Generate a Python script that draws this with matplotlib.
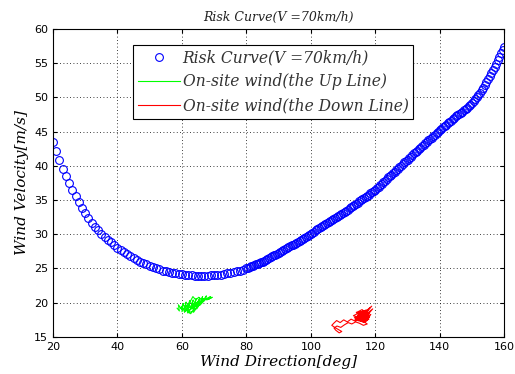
import matplotlib.pyplot as plt

# Data: risk curve read at whole degrees
direction = list(range(20, 161))
risk_speed = [
    43.4, 42.1, 40.8, 39.5, 38.5, 37.5, 36.5, 35.6, 34.7, 33.9,
    33.1, 32.4, 31.7, 31.1, 30.6, 30.1, 29.6, 29.2, 28.8, 28.4,
    28.0, 27.7, 27.4, 27.1, 26.8, 26.5, 26.3, 26.0, 25.8, 25.6,
    25.4, 25.2, 25.0, 24.9, 24.7, 24.6, 24.5, 24.4, 24.3, 24.2,
    24.2, 24.1, 24.0, 24.0, 23.9, 23.9, 23.9, 23.9, 23.9, 24.0,
    24.0, 24.1, 24.1, 24.2, 24.3, 24.4, 24.5, 24.6, 24.7, 24.8,
    25.0, 25.2, 25.4, 25.6, 25.8, 26.0, 26.3, 26.5, 26.8, 27.0,
    27.2, 27.5, 27.8, 28.1, 28.4, 28.6, 28.9, 29.2, 29.5, 29.8,
    30.1, 30.4, 30.7, 31.0, 31.3, 31.6, 31.9, 32.2, 32.5, 32.8,
    33.1, 33.4, 33.8, 34.1, 34.4, 34.8, 35.1, 35.5, 35.8, 36.2,
    36.5, 36.9, 37.4, 37.8, 38.3, 38.7, 39.1, 39.6, 40.0, 40.5,
    40.9, 41.3, 41.8, 42.2, 42.6, 43.1, 43.5, 43.9, 44.3, 44.8,
    45.2, 45.6, 46.0, 46.4, 46.8, 47.2, 47.6, 47.9, 48.3, 48.7,
    49.1, 49.7, 50.3, 51.0, 51.8, 52.6, 53.5, 54.4, 55.4, 56.4,
    57.3,
]

# risk curve read at half degrees on the dense right-hand part
direction_half = [d + 0.5 for d in range(80, 160)]
risk_speed_half = [
    25.1, 25.3, 25.5, 25.7, 25.9, 26.15, 26.4, 26.65, 26.9, 27.1,
    27.35, 27.65, 27.95, 28.25, 28.5, 28.75, 29.05, 29.35, 29.65, 29.95,
    30.25, 30.55, 30.85, 31.15, 31.45, 31.75, 32.05, 32.35, 32.65, 32.95,
    33.25, 33.6, 33.95, 34.25, 34.6, 34.95, 35.3, 35.65, 36.0, 36.35,
    36.7, 37.15, 37.6, 38.05, 38.5, 38.9, 39.35, 39.8, 40.25, 40.7,
    41.1, 41.55, 42.0, 42.4, 42.85, 43.3, 43.7, 44.1, 44.55, 45.0,
    45.4, 45.8, 46.2, 46.6, 47.0, 47.4, 47.75, 48.1, 48.5, 48.9,
    49.4, 50.0, 50.65, 51.4, 52.2, 53.05, 53.95, 54.9, 55.9, 56.85,
]

up_dir = [58.5, 59.2, 58.9, 59.8, 60.4, 60.0, 60.9, 61.3, 60.8, 61.9,
          62.4, 61.8, 62.9, 63.5, 62.7, 63.8, 64.4, 63.6, 64.9, 65.5,
          64.6, 65.8, 66.4, 65.5, 66.9, 67.6, 66.6, 68.0, 68.9, 67.7,
          69.4, 68.3, 67.2, 66.3, 65.2, 64.3, 63.4, 62.6, 63.3, 64.1,
          63.2, 64.5, 65.3, 64.0, 65.9, 66.8, 65.6, 64.7, 63.7, 62.8,
          61.9, 61.1, 60.4, 59.6, 60.3, 61.4, 62.3, 61.6, 62.7, 63.6,
          62.9, 64.2, 65.1, 64.4, 63.5, 62.4, 61.5, 60.7, 61.8, 62.6]
up_speed = [19.2, 18.8, 19.7, 19.1, 19.9, 18.7, 19.4, 20.1, 18.6, 19.5,
            20.3, 18.5, 19.2, 20.4, 19.0, 19.8, 20.6, 18.6, 19.5, 20.7,
            19.1, 20.0, 20.9, 19.6, 20.3, 21.0, 20.2, 20.7, 20.9, 20.4,
            20.8, 20.5, 20.7, 20.3, 20.8, 20.4, 20.9, 20.2, 19.5, 20.1,
            19.3, 19.8, 20.4, 19.4, 19.9, 20.6, 20.1, 19.6, 19.9, 19.4,
            19.8, 19.3, 19.7, 19.2, 18.9, 19.5, 19.0, 18.7, 18.4, 18.9,
            19.6, 19.1, 19.7, 20.0, 18.8, 18.6, 19.0, 18.7, 19.2, 19.4]

down_dir = [116.0, 114.8, 117.2, 115.5, 118.4, 116.3, 113.9, 117.0, 115.2, 118.9,
            116.6, 114.2, 117.5, 115.0, 113.5, 116.8, 114.6, 117.9, 115.8, 113.2,
            116.1, 118.2, 115.4, 117.3, 114.1, 116.5, 119.2, 117.1, 115.7, 114.4,
            116.9, 118.0, 115.1, 113.7, 116.2, 117.7, 114.9, 116.4, 118.6, 117.4,
            115.6, 113.8, 112.5, 111.3, 110.2, 109.1, 108.0, 107.1, 106.5, 107.4,
            108.5, 109.6, 108.8, 107.7, 107.2, 108.1, 109.3, 110.5, 111.6, 112.7,
            113.9, 115.1, 116.3, 117.5, 116.2, 117.9, 116.7, 115.3, 114.0, 115.6,
            117.0, 118.1, 116.8, 115.5, 114.3, 115.9, 117.3, 116.0, 114.7, 116.4]
down_speed = [18.1, 17.5, 18.6, 17.8, 19.3, 18.4, 17.6, 18.9, 18.0, 19.5,
              18.3, 17.4, 18.7, 18.2, 17.8, 17.3, 18.5, 19.0, 17.7, 18.1,
              18.8, 17.9, 17.4, 18.4, 18.6, 17.6, 19.1, 18.3, 17.7, 18.0,
              18.9, 17.6, 18.4, 17.5, 17.2, 18.0, 18.7, 17.8, 18.3, 17.4,
              17.8, 17.3, 17.6, 17.2, 17.5, 17.1, 17.4, 17.0, 16.7, 16.4,
              16.1, 15.8, 15.6, 16.0, 16.3, 16.6, 16.4, 16.8, 17.1, 16.9,
              17.2, 17.0, 16.7, 16.9, 17.3, 17.6, 17.1, 17.4, 17.7, 18.2,
              17.9, 18.5, 18.8, 18.2, 18.6, 19.0, 18.4, 17.9, 18.3, 18.0]

serif = {'family': 'DejaVu Serif', 'style': 'italic'}

# Plot
fig = plt.figure(figsize=(5.15, 3.74), dpi=100)
ax = fig.add_axes([0.103, 0.099, 0.876, 0.824])
circle = dict(color='#0000ff', markerfacecolor='none', markersize=5.6,
              markeredgewidth=0.8, linestyle='none', marker='o')
ax.plot(direction, risk_speed, label="Risk Curve(V =70km/h)", **circle)
ax.plot(direction_half, risk_speed_half, **circle)
ax.plot(up_dir, up_speed, '-', color='#00ff00', linewidth=0.8,
        label="On-site wind(the Up Line)")
ax.plot(down_dir, down_speed, '-', color='#ff0000', linewidth=0.8,
        label="On-site wind(the Down Line)")

ax.set_xlim(20, 160)
ax.set_ylim(15, 60)
ax.set_xticks(range(20, 161, 20))
ax.set_yticks(range(15, 61, 5))
ax.tick_params(direction='in', top=True, right=True, labelsize=8, length=3)
for lab in ax.get_xticklabels() + ax.get_yticklabels():
    lab.set_family(['Liberation Sans Narrow', 'DejaVu Sans'])
ax.grid(True, color='black', linestyle=(0, (1, 3)), linewidth=0.6)

ax.set_title("Risk Curve(V =70km/h)", fontdict=serif, fontsize=9, pad=6,
             color='#222222')
ax.set_xlabel("Wind Direction[deg]", fontdict=serif, fontsize=11, labelpad=2)
ax.set_ylabel("Wind Velocity[m/s]", fontdict=serif, fontsize=11, labelpad=4)

leg = ax.legend(loc='upper left', bbox_to_anchor=(0.177, 0.948), borderaxespad=0,
                prop={'family': 'DejaVu Serif', 'style': 'italic', 'size': 11.2},
                fancybox=False, edgecolor='black', framealpha=1,
                borderpad=0.3, labelspacing=0.45, handlelength=2.7,
                handletextpad=0.2)
leg.get_frame().set_linewidth(0.8)
for t in leg.get_texts():
    t.set_color('#333333')

fig.savefig('out.png', dpi=100)
